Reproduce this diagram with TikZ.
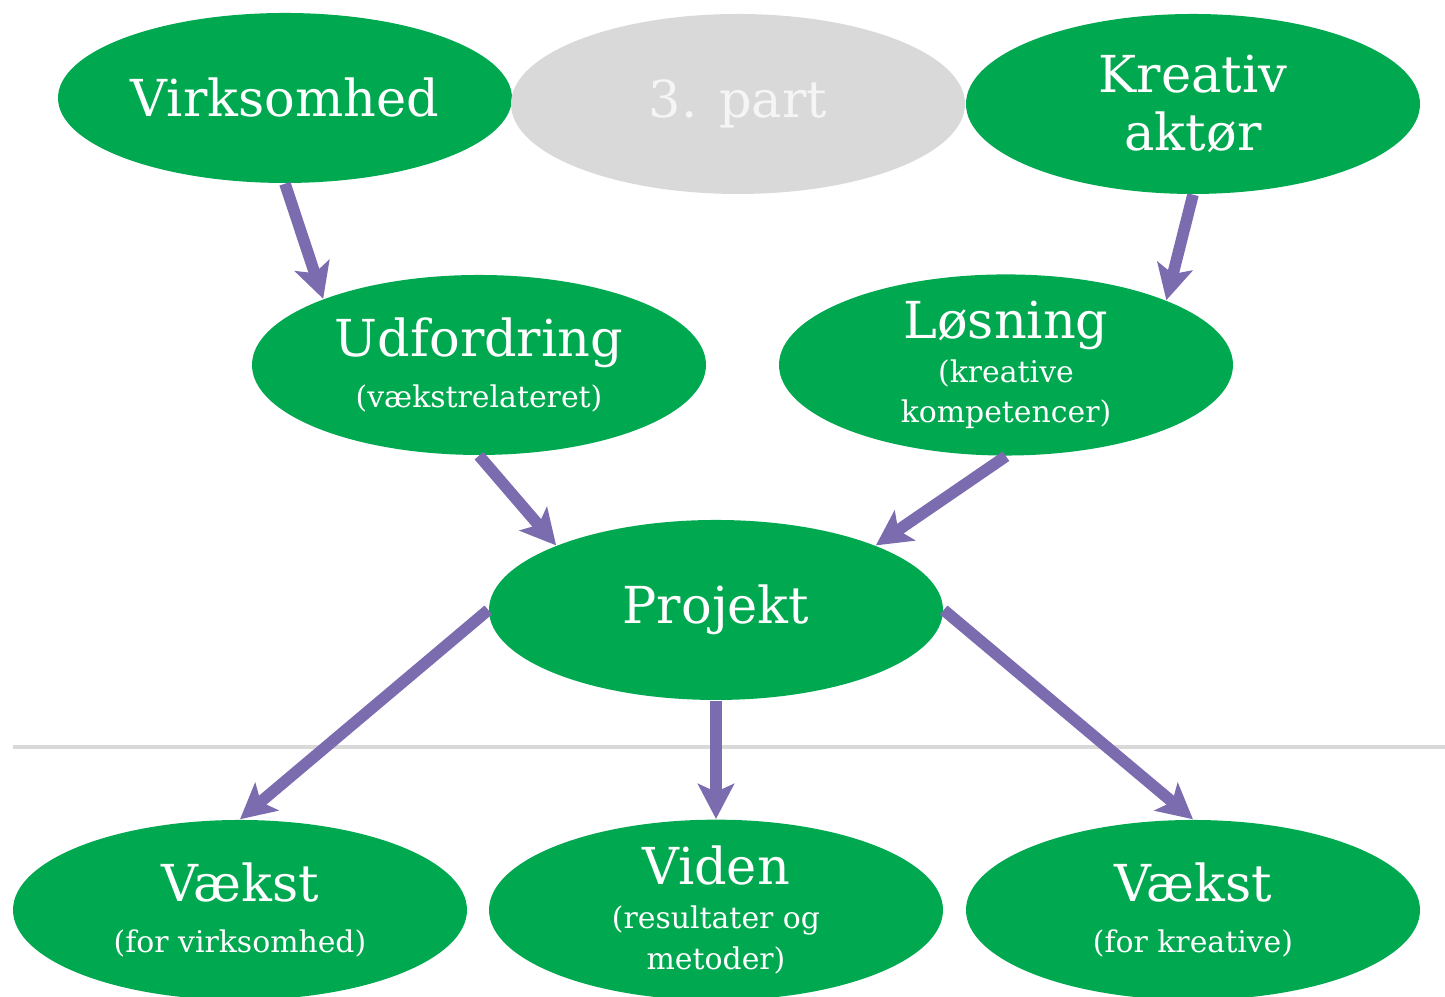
\documentclass[tikz,border=0pt]{standalone}
\usepackage{fontspec}
\setmainfont{DejaVu Serif}
\usetikzlibrary{arrows.meta,shapes.geometric}
\definecolor{blobgreen}{HTML}{00A850}
\definecolor{blobgrey}{HTML}{D9D9D9}
\definecolor{flowpurple}{HTML}{7B6BAF}
\newcommand\smalltext[1]{{\fontsize{8.5}{10}\selectfont #1}}
\tikzset{
  blob/.style={ellipse, fill=blobgreen, text=white, minimum width=4.54cm,
    minimum height=1.8cm, inner sep=0pt, align=center,
    font=\fontsize{14.5}{16.5}\selectfont},
  greyblob/.style={blob, fill=blobgrey, text=white!96!black},
  flow/.style={draw=flowpurple, line width=3.3pt,
    -{Stealth[length=0.35cm, width=0.36cm, inset=0.08cm]}}
}
\begin{document}
\begin{tikzpicture}
      \useasboundingbox (0,0) rectangle (14.45,9.97);

      % top row
      \node[blob, minimum height=1.7cm] (virk) at (2.85, 8.99) {Virksomhed};
      \node[greyblob] (third) at (7.38, 8.93) {3. part};
      \node[blob] (kreativ) at (11.93, 8.93) {Kreativ\\aktør};

      % middle
      \node[blob] (udf) at (4.79, 6.32)
        {Udfordring\\[-2pt]\smalltext{(vækstrelateret)}};
      \node[blob] (los) at (10.06, 6.32)
        {Løsning\\[-4pt]\smalltext{(kreative}\\[-5pt]\smalltext{kompetencer)}};
      \node[blob] (proj) at (7.16, 3.87) {Projekt};

      % divider
      \draw[blobgrey, line width=1.4pt] (0.13, 2.5) -- (14.45, 2.5);

      % bottom row
      \node[blob] (vaekstA) at (2.40, 0.87)
        {Vækst\\[-2pt]\smalltext{(for virksomhed)}};
      \node[blob] (viden) at (7.16, 0.87)
        {Viden\\[-4pt]\smalltext{(resultater og}\\[-5pt]\smalltext{metoder)}};
      \node[blob] (vaekstB) at (11.93, 0.87)
        {Vækst\\[-2pt]\smalltext{(for kreative)}};

      \draw[flow] (virk.south) -- (udf.157);
      \draw[flow] (kreativ.south) -- (los.22);
      \draw[flow] (udf.south) -- (proj.158);
      \draw[flow] (los.south) -- (proj.22);
      \draw[flow] (proj.west) -- (vaekstA.north);
      \draw[flow] (proj.south) -- (viden.north);
      \draw[flow] (proj.east) -- (vaekstB.north);
    \end{tikzpicture}
\end{document}
